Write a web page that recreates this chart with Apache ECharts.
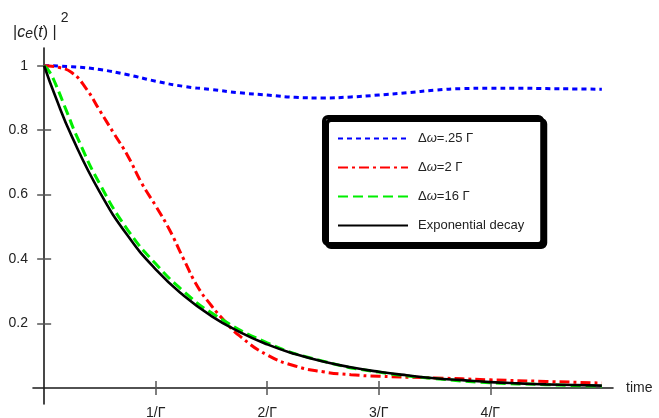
<!DOCTYPE html>
<html>
<head>
<meta charset="utf-8">
<script src="https://cdn.jsdelivr.net/npm/echarts@6/dist/echarts.min.js"></script>
<style>
html,body{margin:0;padding:0;background:#fff;}
#chart{width:659px;height:418px;}
</style>
</head>
<body>
<div id="chart"></div>
<script>
// ---- data ----
const xTickValues = [1, 2, 3, 4];
const xTickLabels = ['1/Γ', '2/Γ', '3/Γ', '4/Γ'];
const yTickValues = [0.2, 0.4, 0.6, 0.8, 1];

const legendNames = ['Δω=.25 Γ', 'Δω=2 Γ', 'Δω=16 Γ', 'Exponential decay'];

const tBlue = [0, 0.25, 0.5, 0.75, 1.0, 1.25, 1.5, 1.75, 2.0, 2.25, 2.5, 2.75, 3.0, 3.25, 3.5, 3.75, 4.0, 4.25, 4.5, 4.75, 5.0];
const vBlue = [1.0, 0.997, 0.988, 0.972, 0.952, 0.936, 0.926, 0.916, 0.909, 0.902, 0.900, 0.903, 0.909, 0.916, 0.924, 0.929, 0.930, 0.930, 0.929, 0.928, 0.927];

const tRed = [0, 0.125, 0.25, 0.375, 0.5, 0.625, 0.75, 0.875, 1.0, 1.125, 1.25, 1.375, 1.5, 1.625, 1.75, 2.0, 2.25, 2.5, 2.75, 3.0, 3.5, 4.0, 4.5, 5.0];
const vRed = [1.0, 0.995, 0.978, 0.93, 0.86, 0.79, 0.72, 0.635, 0.565, 0.49, 0.40, 0.315, 0.255, 0.205, 0.162, 0.102, 0.068, 0.05, 0.041, 0.036, 0.031, 0.025, 0.02, 0.015];

const tGreen = [0, 0.05, 0.1, 0.2, 0.3, 0.5, 0.75, 1.0, 1.25, 1.5, 2.0, 2.5, 3.0, 3.5, 4.0, 4.5, 5.0];
const vGreen = [1.0, 0.98, 0.945, 0.86, 0.775, 0.632, 0.49, 0.385, 0.30, 0.233, 0.14, 0.083, 0.049, 0.029, 0.016, 0.01, 0.005];

const tBlack = [0, 0.1, 0.25, 0.5, 0.75, 1.0, 1.25, 1.5, 1.75, 2.0, 2.25, 2.5, 2.75, 3.0, 3.25, 3.5, 3.75, 4.0, 4.25, 4.5, 4.75, 5.0];
const vBlack = [1.0, 0.905, 0.779, 0.607, 0.472, 0.368, 0.287, 0.223, 0.174, 0.135, 0.105, 0.082, 0.064, 0.05, 0.039, 0.03, 0.024, 0.018, 0.014, 0.011, 0.009, 0.007];

function pairs(t, v) { return t.map((x, i) => [x, v[i]]); }

const FONT = '"Liberation Sans", Arial, Helvetica, sans-serif';

const chart = echarts.init(document.getElementById('chart'), null, {renderer: 'canvas'});

const axisLineStyle = {color: '#1a1a1a', width: 1.6};
const tickStyle = {color: '#555', width: 1.5};

const option = {
  backgroundColor: '#ffffff',
  animation: false,
  textStyle: {fontFamily: FONT},
  title: {
    left: 8,
    top: 6,
    text: '{n||}{i|c}{sub|e}{n|(}{i|t}{n|) |}{sup|2}',
    textStyle: {
      fontFamily: FONT,
      fontWeight: 'normal',
      rich: {
        n: {fontSize: 16, color: '#222', fontFamily: FONT, fontWeight: 'normal', verticalAlign: 'bottom', lineHeight: 30},
        i: {fontSize: 16, color: '#222', fontFamily: FONT, fontWeight: 'normal', fontStyle: 'italic', verticalAlign: 'bottom', lineHeight: 30},
        sub: {fontSize: 14, color: '#222', fontFamily: FONT, fontWeight: 'normal', fontStyle: 'italic', verticalAlign: 'bottom', lineHeight: 22},
        sup: {fontSize: 14, color: '#222', fontFamily: FONT, fontWeight: 'normal', verticalAlign: 'top', lineHeight: 30, padding: [0, 0, 0, 4]}
      }
    }
  },
  grid: {left: 33, right: 46, top: 48, bottom: 14, containLabel: false, outerBoundsMode: 'none'},
  legend: {
    orient: 'vertical',
    left: 324,
    top: 117,
    padding: [15, 18, 12, 13],
    itemWidth: 70,
    itemHeight: 14,
    itemGap: 16,
    backgroundColor: '#fff',
    borderColor: '#000',
    borderWidth: 4,
    borderRadius: 4,
    shadowColor: '#000',
    shadowBlur: 0,
    shadowOffsetX: 3,
    shadowOffsetY: 3,
    itemStyle: {opacity: 0},
    data: legendNames,
    formatter: function (name) {
      if (name.indexOf('Δω') === 0) {
        return '{n|Δ}{i|ω}{n|' + name.slice(2) + '}';
      }
      return '{n|' + name + '}';
    },
    textStyle: {
      fontFamily: FONT,
      fontSize: 13,
      color: '#222',
      padding: [0, 0, 0, 5],
      rich: {
        n: {fontFamily: FONT, fontSize: 13, color: '#222'},
        i: {fontFamily: FONT, fontSize: 13, color: '#222', fontStyle: 'italic'}
      }
    }
  },
  xAxis: [
    {
      type: 'value',
      min: -0.1,
      max: 5.1,
      name: 'time',
      nameLocation: 'end',
      nameGap: 13,
      nameTextStyle: {fontFamily: FONT, fontSize: 14, color: '#222', verticalAlign: 'middle'},
      axisLine: {show: true, onZero: true, lineStyle: axisLineStyle},
      axisTick: {show: true, inside: false, length: 7, lineStyle: tickStyle, customValues: xTickValues},
      axisLabel: {
        show: true, margin: 2, fontFamily: FONT, fontSize: 14, color: '#222',
        customValues: xTickValues,
        formatter: function (v) { const i = xTickValues.indexOf(Math.round(v)); return i >= 0 ? xTickLabels[i] : ''; }
      },
      splitLine: {show: false}
    },
    {
      type: 'value',
      position: 'bottom',
      min: -0.1,
      max: 5.1,
      axisLine: {show: false, onZero: true},
      axisTick: {show: true, inside: true, length: 7, lineStyle: tickStyle, customValues: xTickValues},
      axisLabel: {show: false},
      splitLine: {show: false}
    }
  ],
  yAxis: [
    {
      type: 'value',
      min: -0.05,
      max: 1.055,
      axisLine: {show: true, onZero: true, lineStyle: axisLineStyle},
      axisTick: {show: true, inside: false, length: 7, lineStyle: tickStyle, customValues: yTickValues},
      axisLabel: {
        show: true, margin: 5, fontFamily: FONT, fontSize: 14, color: '#222',
        customValues: yTickValues
      },
      splitLine: {show: false}
    },
    {
      type: 'value',
      position: 'left',
      min: -0.05,
      max: 1.055,
      axisLine: {show: false, onZero: true},
      axisTick: {show: true, inside: true, length: 7, lineStyle: tickStyle, customValues: yTickValues},
      axisLabel: {show: false},
      splitLine: {show: false}
    }
  ],
  series: [
    {
      name: legendNames[0], type: 'line', xAxisIndex: 0, yAxisIndex: 0,
      data: pairs(tBlue, vBlue), showSymbol: false, symbol: 'none',
      smooth: true,
      lineStyle: {color: '#0000ff', width: 3, type: [5, 4]},
      itemStyle: {color: '#0000ff'}
    },
    {
      name: legendNames[1], type: 'line', xAxisIndex: 0, yAxisIndex: 0,
      data: pairs(tRed, vRed), showSymbol: false, symbol: 'none',
      smooth: true,
      lineStyle: {color: '#ff0000', width: 3, type: [10, 4, 3, 4]},
      itemStyle: {color: '#ff0000'}
    },
    {
      name: legendNames[2], type: 'line', xAxisIndex: 0, yAxisIndex: 0,
      data: pairs(tGreen, vGreen), showSymbol: false, symbol: 'none',
      smooth: true,
      lineStyle: {color: '#00ee00', width: 3, type: [10, 5]},
      itemStyle: {color: '#00ee00'}
    },
    {
      name: legendNames[3], type: 'line', xAxisIndex: 0, yAxisIndex: 0,
      data: pairs(tBlack, vBlack), showSymbol: false, symbol: 'none',
      smooth: true,
      lineStyle: {color: '#000000', width: 2.6, type: 'solid'},
      itemStyle: {color: '#000000'}
    }
  ]
};

chart.setOption(option);
</script>
</body>
</html>
